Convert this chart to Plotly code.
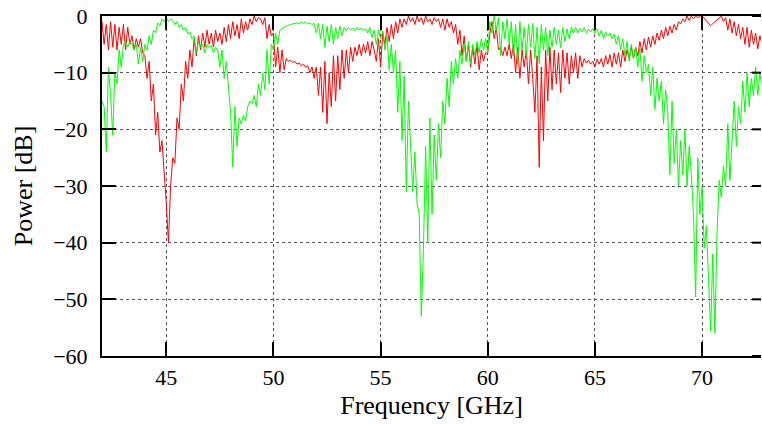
import plotly.graph_objects as go

freq_start = 42.0
freq_step = 0.1

red_db = [
    -1, -5, -1.5, -6, -1, -5.5, -1.5, -6, -2, -5,
    -1.5, -6, -2, -5, -3.5, -6, -4, -5.5, -4, -6.5,
    -7, -11, -8, -15, -12, -21, -17, -24, -22, -27,
    -33, -40, -30, -25, -26, -18, -20, -12, -15, -8,
    -11, -6, -9, -4, -7, -3.5, -6, -3, -5.5, -2.5,
    -5, -3, -5.5, -2.5, -4.5, -3, -5, -2, -4.5, -1.5,
    -4, -1, -3.5, -1.5, -4, -0.5, -3, -1, -2.5, -0.5,
    -1.5, 0, -1, -0.3, -0.5, -1.5, -0.3, -4, -1.5, -3.5,
    -3, -9, -5.5, -10, -6, -9.5, -7.5, -8, -7.8, -8.2,
    -8, -8.5, -8.3, -8.8, -8.5, -9, -8.8, -10, -9, -11,
    -9, -14, -9, -17, -8, -19, -10, -16, -7, -15,
    -7, -13, -6, -11, -6, -10, -5.5, -8, -5.5, -7,
    -5, -7, -5, -6.5, -4.5, -7, -4.5, -6, -8, -4,
    -9, -3, -5, -2, -4.5, -1.5, -4, -1, -3, -0.5,
    -2, -0.5, -1.5, 0, -1, -0.3, -1.5, 0, -1, -0.3,
    -1.5, 0, -1, -0.5, -1.5, -0.3, -1, -0.5, -2, -0.5,
    -2.5, -0.5, -2, -1, -3, -1.5, -5, -2.5, -7, -3.5,
    -8, -5, -9, -5.5, -8.5, -5, -9.5, -6, -8, -6.5,
    -6.5, -3, -1, -4, -2, -6, -5.5, -7, -5.5, -7,
    -5, -7.5, -5, -10, -5.5, -11, -6, -9, -6, -12,
    -6, -11, -17, -7, -26.7, -9, -22, -6, -15, -5.5,
    -13, -6, -12, -6.5, -13.5, -6, -11, -6.5, -12, -7,
    -10, -6.5, -11, -7, -9, -7.5, -8.3, -7.8, -8.5, -8,
    -9, -7.6, -8.5, -7.5, -9, -7, -8.5, -6.8, -9, -6.5,
    -8.5, -6.5, -9, -6, -8, -6, -7.5, -5.5, -7.5, -5.5,
    -7, -4.5, -6.5, -4, -6, -3.7, -5.5, -3.5, -5, -3,
    -4.3, -2.5, -4, -2, -3.5, -1.8, -3, -1.5, -2.5, -1,
    -1.4, -0.5, -1, 0, -0.8, 0, -0.5, 0, -0.3, 0,
    0, None, None, None, -1.7, None, None, None, None, 0,
    -1, -0.3, -2.5, -0.5, -3, -1, -3.5, -1.5, -4, -2,
    -5, -2, -5.5, -2.5, -5, -3, -5.8, -3.5, -5,
]

green_db = [
    -15, -16, -24, -9, -14, -21, -10, -12, -6, -9,
    -5, -4.5, -5.5, -4.5, -5, -6, -5, -8.5, -5.5, -8,
    -5, -6, -3.5, -5, -2.5, -3, -1.2, -1.8, -0.5, -1,
    -0.3, -1, -0.5, -0.8, -1.5, -1, -2, -1.5, -2.5, -2,
    -3.2, -2.8, -4, -3.5, -6.5, -4.5, -5.5, -5, -6.5, -5,
    -5.5, -5.2, -6.5, -5.5, -6, -9, -6, -11, -8, -13,
    -17, -26.6, -16, -23, -18, -19, -17.5, -18.5, -16, -15,
    -15.5, -14, -16, -12, -14, -10, -13, -6, -12, -5,
    -6, -3, -5, -2.5, -2.2, -2, -1.8, -1.6, -1.5, -1.4,
    -1.3, -1.2, -1.4, -1.1, -1.3, -1.1, -1.4, -1.2, -1.5, -1.3,
    -3, -1.3, -4, -1.5, -5.5, -1.8, -4.5, -1.5, -5, -2,
    -4, -1.8, -3.5, -2, -2.6, -2, -2.5, -2.1, -2.6, -2,
    -2.5, -2.1, -2.6, -2.2, -3, -2, -3.8, -2.5, -5, -2.5,
    -4, -2.6, -6, -3.5, -9.5, -5, -10, -6, -17, -8,
    -22, -10.6, -31, -15, -23, -31, -24, -33, -35, -53,
    -41, -23, -40, -18, -35, -21, -29, -19, -25, -15,
    -19, -11, -16, -8, -12, -7.5, -11, -6, -8.5, -5,
    -8, -4.5, -8.5, -5, -7, -4.5, -6.5, -4, -6, -4,
    -6.5, -1, -3, 0, -2.5, -0.3, -7, -1, -4, -0.5,
    -5, -1, -7, -1.5, -8.5, -1, -6, -2, -7, -1.5,
    -5.5, -1.3, -7.5, -2, -8.4, -1.5, -6, -2, -7, -2.5,
    -5.5, -2, -5, -2.5, -5.6, -2, -4.5, -2.3, -4, -2,
    -3, -2, -3, -2.2, -2.8, -2, -3, -2.3, -2.8, -2.2,
    -3, -2.3, -3.5, -2.5, -4, -2.8, -3.5, -3, -4, -3.2,
    -5, -3.5, -6, -4, -7, -4.5, -8, -5, -7.5, -5.5,
    -9, -5.7, -11.5, -7, -10, -8.5, -14, -9, -16.5, -11,
    -15, -11.5, -19, -13, -17, -28, -15, -26, -20, -30,
    -22, -28, -20, -30, -23, -28, -35, -49.6, -25, -35,
    -30, -41, -37, -45, -55.6, -42, -56, -38, -29, -32,
    -26.5, -30, -19, -29, -21, -15, -23, -16, -19, -11.5,
    -17, -10, -16, -11, -14, -9, -14, -10, -13,
]

x_ticks = [45, 50, 55, 60, 65, 70]
y_ticks = [0, -10, -20, -30, -40, -50, -60]
x_title = "Frequency [GHz]"
y_title = "Power [dB]"

freq_red = [round(freq_start + freq_step * i, 1) for i in range(len(red_db))]
freq_green = [round(freq_start + freq_step * i, 1) for i in range(len(green_db))]

fig = go.Figure()
fig.add_trace(go.Scatter(x=freq_red, y=red_db, mode="lines", connectgaps=True,
                         line=dict(color="#ff0000", width=1), showlegend=False))
fig.add_trace(go.Scatter(x=freq_green, y=green_db, mode="lines",
                         line=dict(color="#00ff00", width=1), showlegend=False))

font = dict(family="Liberation Serif", size=22, color="black")

plot_w = 762 - 102 - 1
for yv in y_ticks:
    fig.add_shape(type="line", xref="paper", yref="y",
                  x0=1 - 9 / plot_w, x1=1, y0=yv, y1=yv,
                  line=dict(color="black", width=2))

fig.update_layout(
    width=762, height=424,
    margin=dict(l=102, r=1, t=16, b=68),
    paper_bgcolor="white", plot_bgcolor="white",
    font=font,
    xaxis=dict(range=[42, 72.75], tickvals=x_ticks, ticks="inside", ticklen=14,
               tickwidth=1.5, tickcolor="black", showline=True, linecolor="black",
               linewidth=2, mirror="ticks", showgrid=True, gridcolor="#555555",
               griddash="dot", gridwidth=1, zeroline=False, ticklabelstandoff=1,
               title=dict(text=x_title, standoff=6), tickfont=font),
    yaxis=dict(range=[-60, 0], tickvals=y_ticks, ticks="inside", ticklen=14,
               tickwidth=2, tickcolor="black", showline=True, linecolor="black",
               linewidth=2, mirror=False, showgrid=True, gridcolor="#555555",
               griddash="dot", gridwidth=1, zeroline=False, ticklabelstandoff=8,
               title=dict(text=y_title, standoff=13), tickfont=font),
)

fig.write_html("out.html")
